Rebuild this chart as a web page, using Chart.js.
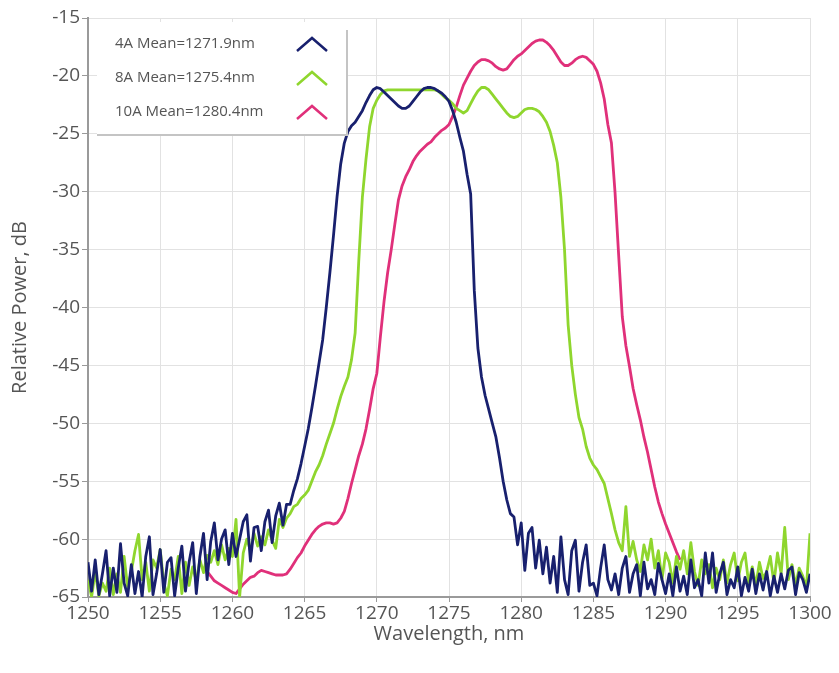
<!DOCTYPE html>
<html>
<head>
<meta charset="utf-8">
<title>Relative Power vs Wavelength</title>
<script src="https://cdn.jsdelivr.net/npm/chart.js@4.4.1/dist/chart.umd.min.js"></script>
<style>
  html, body { margin: 0; padding: 0; background: #fff; }
  #container { width: 839px; height: 673px; }
</style>
</head>
<body>
<div id="container"><canvas id="chart-spectrum" width="839" height="673"></canvas></div>
<script>
//series labels
const seriesLabels = ["4A Mean=1271.9nm", "8A Mean=1275.4nm", "10A Mean=1280.4nm"];
//series colors
const seriesColors = ["#18206e", "#8fd62e", "#e0307a"];
//tick labels
const xTicks = [1250, 1255, 1260, 1265, 1270, 1275, 1280, 1285, 1290, 1295, 1300];
const yTicks = [-65, -60, -55, -50, -45, -40, -35, -30, -25, -20, -15];
//wavelength sampling (nm): 1250 -> 1300 every 0.25 nm
const wavelengthStart = 1250;
const wavelengthStep = 0.25;
//4A (dB)
const power4A = [
  -62.0, -64.5, -61.8, -64.8, -63.0, -61.0, -64.9, -62.5,
  -64.6, -60.4, -63.8, -64.9, -62.2, -64.7, -62.8, -65.0,
  -61.5, -59.8, -64.8, -63.0, -60.9, -64.6, -62.0, -61.6,
  -64.9, -62.5, -60.6, -64.5, -62.0, -60.3, -64.7, -61.5,
  -59.5, -63.5, -60.2, -58.6, -61.8, -60.0, -59.2, -62.2,
  -59.5, -61.5, -60.0, -58.5, -57.9, -61.9, -59.0, -58.9,
  -61.0, -58.5, -57.5, -60.3, -58.0, -56.9, -58.8, -57.0,
  -57.0, -55.8, -54.8, -53.5, -52.0, -50.5, -48.7, -46.8,
  -44.8, -42.8, -40.0, -37.0, -33.8, -30.4, -27.6, -25.8,
  -24.8, -24.3, -24.0, -23.5, -23.0, -22.3, -21.7, -21.2,
  -21.0, -21.1, -21.4, -21.7, -22.0, -22.3, -22.6, -22.8,
  -22.8, -22.6, -22.2, -21.8, -21.4, -21.1, -21.0, -21.0,
  -21.1, -21.3, -21.5, -21.8, -22.2, -23.0, -24.0, -25.3,
  -26.5, -28.5, -30.2, -38.5, -43.5, -46.0, -47.6, -48.8,
  -50.0, -51.2, -53.0, -55.0, -56.6, -57.8, -58.1, -60.5,
  -58.6, -62.7, -59.5, -59.0, -62.5, -60.1, -63.0, -60.7,
  -63.8, -61.5, -64.6, -59.8, -63.5, -64.8, -61.0, -60.1,
  -64.5, -62.0, -60.5, -64.0, -63.8, -64.9, -62.5, -60.5,
  -63.5, -64.4, -63.0, -64.8, -62.5, -61.5, -64.6, -63.0,
  -62.2, -64.9, -62.0, -64.3, -63.5, -64.8, -62.1, -63.5,
  -64.7, -63.0, -64.9, -62.4, -64.5, -63.2, -64.8, -61.8,
  -64.2, -63.5, -64.9, -61.2, -63.8, -61.2, -64.6, -63.0,
  -62.0, -64.8, -63.5, -64.2, -62.4, -64.9, -63.3, -64.5,
  -62.6, -64.7, -63.0, -64.4, -62.8, -64.9, -63.2, -64.6,
  -63.0, -64.3, -62.7, -62.4, -64.8, -62.9, -63.5, -64.6,
  -63.0,
];
//8A (dB)
const power8A = [
  -63.5, -65.0, -62.8, -64.9, -63.8, -64.5, -62.5, -64.8,
  -63.0, -64.6, -61.5, -64.2, -62.8, -61.0, -59.6, -63.5,
  -62.0, -64.5, -61.8, -62.5, -60.9, -63.8, -64.9, -62.6,
  -63.5, -61.5, -64.7, -62.0, -64.0, -62.4, -63.6, -61.8,
  -62.9, -61.4, -62.0, -61.0, -62.2, -60.5, -61.8, -60.8,
  -61.5, -58.3, -65.0, -61.2, -60.0, -61.0, -59.5, -60.6,
  -59.8, -60.5, -59.2, -60.1, -60.8, -58.3, -59.0, -58.2,
  -57.8, -57.2, -57.0, -56.5, -56.2, -55.8, -55.0, -54.2,
  -53.6, -52.8, -51.8, -50.9, -50.0, -48.8, -47.7, -46.8,
  -46.0, -44.5, -42.2, -36.0, -30.5, -27.2, -24.4, -22.8,
  -22.1, -21.6, -21.3, -21.2, -21.2, -21.2, -21.2, -21.2,
  -21.2, -21.2, -21.2, -21.2, -21.2, -21.2, -21.2, -21.2,
  -21.2, -21.3, -21.6, -21.9, -22.1, -22.4, -22.8, -23.0,
  -23.2, -23.0, -22.4, -21.8, -21.3, -21.0, -21.0, -21.2,
  -21.6, -22.0, -22.4, -22.8, -23.2, -23.5, -23.6, -23.5,
  -23.2, -22.9, -22.8, -22.8, -22.9, -23.1, -23.5, -24.0,
  -24.8, -26.0, -27.5, -30.5, -35.0, -41.5, -45.0, -47.5,
  -49.5, -50.5, -52.0, -53.0, -53.6, -54.0, -54.6, -55.2,
  -56.5, -57.8, -59.2, -60.3, -61.0, -57.2, -61.5, -60.2,
  -61.8, -62.8, -60.5, -61.8, -60.0, -62.5, -61.0, -63.5,
  -61.2, -62.0, -63.8, -61.5, -62.6, -61.0, -63.0, -60.3,
  -62.8, -64.0, -61.8, -63.0, -62.2, -64.2, -62.5, -63.5,
  -61.8, -63.8, -62.2, -61.2, -63.6, -62.0, -61.2, -63.8,
  -62.4, -64.0, -62.0, -63.4, -62.8, -61.5, -63.8, -61.2,
  -63.0, -59.0, -63.5, -62.2, -64.0, -62.5, -63.2, -64.2,
  -59.5,
];
//10A (dB), null where hidden
const power10A = [
  null, null, null, null, null, null, null, null,
  null, null, null, null, null, null, null, null,
  null, null, null, null, null, null, null, null,
  null, null, null, null, null, null, null, null,
  null, -62.8, -63.2, -63.6, -63.8, -64.0, -64.2, -64.4,
  -64.6, -64.7, -64.3, -63.9, -63.6, -63.3, -63.2, -62.9,
  -62.7, -62.8, -62.9, -63.0, -63.1, -63.1, -63.1, -63.0,
  -62.6, -62.1, -61.6, -61.2, -60.6, -60.1, -59.6, -59.2,
  -58.9, -58.7, -58.6, -58.6, -58.7, -58.6, -58.2, -57.6,
  -56.5, -55.2, -54.0, -52.8, -51.8, -50.5, -48.8, -47.0,
  -45.7, -42.5, -39.5, -37.0, -35.0, -32.8, -30.7, -29.5,
  -28.7, -28.1, -27.4, -26.9, -26.5, -26.2, -25.9, -25.7,
  -25.3, -25.0, -24.7, -24.5, -24.2, -23.5, -22.7, -21.7,
  -20.8, -20.2, -19.6, -19.1, -18.8, -18.6, -18.6, -18.7,
  -18.9, -19.2, -19.4, -19.5, -19.4, -19.0, -18.6, -18.3,
  -18.1, -17.8, -17.5, -17.2, -17.0, -16.9, -16.9, -17.1,
  -17.4, -17.8, -18.3, -18.8, -19.1, -19.1, -18.9, -18.6,
  -18.4, -18.3, -18.4, -18.7, -19.0, -19.6, -20.6, -22.0,
  -24.2, -25.8, -30.1, -35.5, -40.8, -43.3, -45.1, -47.0,
  -48.4, -49.7, -51.2, -52.5, -54.0, -55.5, -56.8, -57.8,
  -58.7, -59.5, -60.3, -61.1, -61.8, null, null, null,
  null, null, null, null, null, null, null, null,
  null, null, null, null, null, null, null, null,
  null, null, null, null, null, null, null, null,
  null, null, null, null, null, null, null, null,
  null,
];

document.addEventListener("DOMContentLoaded", () => {
  //font
  const fontFamily = "'Open Sans', 'Noto Sans', sans-serif";
  const textColor = "#555";
  //pair wavelengths with values
  const toPoints = (values) =>
    values.map((v, i) => ({ x: wavelengthStart + i * wavelengthStep, y: v }));

  //legend box drawn inside the plot, top left
  const legendBox = {
    id: "legendBox",
    afterDatasetsDraw(chart) {
      const { ctx, chartArea } = chart;
      const left = chartArea.left + 9;
      const top = chartArea.top + 4;
      const width = 250;
      const height = 113;
      ctx.save();
      ctx.fillStyle = "#fff";
      ctx.fillRect(left, top, width, height);
      //shadow edge right + bottom
      ctx.strokeStyle = "#c4c4c4";
      ctx.lineWidth = 2;
      ctx.beginPath();
      ctx.moveTo(left + width, top + 8);
      ctx.lineTo(left + width, top + height);
      ctx.lineTo(left, top + height);
      ctx.stroke();
      //entries
      ctx.font = `15px ${fontFamily}`;
      ctx.textBaseline = "middle";
      ctx.textAlign = "left";
      chart.data.datasets.forEach((ds, i) => {
        const y = top + 22 + i * 34;
        ctx.fillStyle = textColor;
        ctx.fillText(ds.label, left + 18, y);
        //chevron marker
        const cx = left + 215;
        ctx.strokeStyle = ds.borderColor;
        ctx.lineWidth = 2.5;
        ctx.beginPath();
        ctx.moveTo(cx - 15, y + 7);
        ctx.lineTo(cx, y - 6);
        ctx.lineTo(cx + 15, y + 7);
        ctx.stroke();
      });
      ctx.restore();
    },
  };

  //chart
  const canvasSpectrum = document.getElementById("chart-spectrum");
  const chartSpectrum = new Chart(canvasSpectrum, {
    type: "line",
    data: {
      datasets: [power4A, power8A, power10A].map((values, i) => ({
        label: seriesLabels[i],
        data: toPoints(values),
        borderColor: seriesColors[i],
        backgroundColor: seriesColors[i],
        borderWidth: 2.8,
        pointRadius: 0,
        tension: 0,
        spanGaps: false,
        borderJoinStyle: "round",
      })),
    },
    options: {
      responsive: false,
      animation: false,
      layout: { padding: { top: 18, right: 29, bottom: 0, left: 0 } },
      plugins: {
        legend: { display: false },
        tooltip: { enabled: false },
      },
      scales: {
        x: {
          type: "linear",
          min: 1250,
          max: 1300,
          afterBuildTicks: (scale) => {
            scale.ticks = xTicks.map((v) => ({ value: v }));
          },
          afterFit: (scale) => {
            scale.height = 76;
          },
          grid: { color: "#e2e2e2", tickColor: "#9a9a9a", tickLength: 5 },
          border: { color: "#9a9a9a", width: 2 },
          ticks: {
            color: textColor,
            font: { family: fontFamily, size: 19 },
            padding: 0,
            maxRotation: 0,
            autoSkip: false,
            callback: (value) => String(value),
          },
          title: {
            display: true,
            text: "Wavelength, nm",
            color: textColor,
            font: { family: fontFamily, size: 20 },
            padding: { top: 0, bottom: 27 },
          },
        },
        y: {
          type: "linear",
          min: -65,
          max: -15,
          afterBuildTicks: (scale) => {
            scale.ticks = yTicks.map((v) => ({ value: v }));
          },
          afterFit: (scale) => {
            scale.width = 88;
          },
          grid: { color: "#e2e2e2", tickColor: "#9a9a9a", tickLength: 6 },
          border: { color: "#9a9a9a", width: 2 },
          ticks: {
            color: textColor,
            font: { family: fontFamily, size: 19 },
            padding: 2,
            autoSkip: false,
            callback: (value) => String(value),
          },
          title: {
            display: true,
            text: "Relative Power, dB",
            color: textColor,
            font: { family: fontFamily, size: 20 },
            padding: { top: 8, bottom: 0 },
          },
        },
      },
    },
    plugins: [legendBox],
  });
});
</script>
</body>
</html>
